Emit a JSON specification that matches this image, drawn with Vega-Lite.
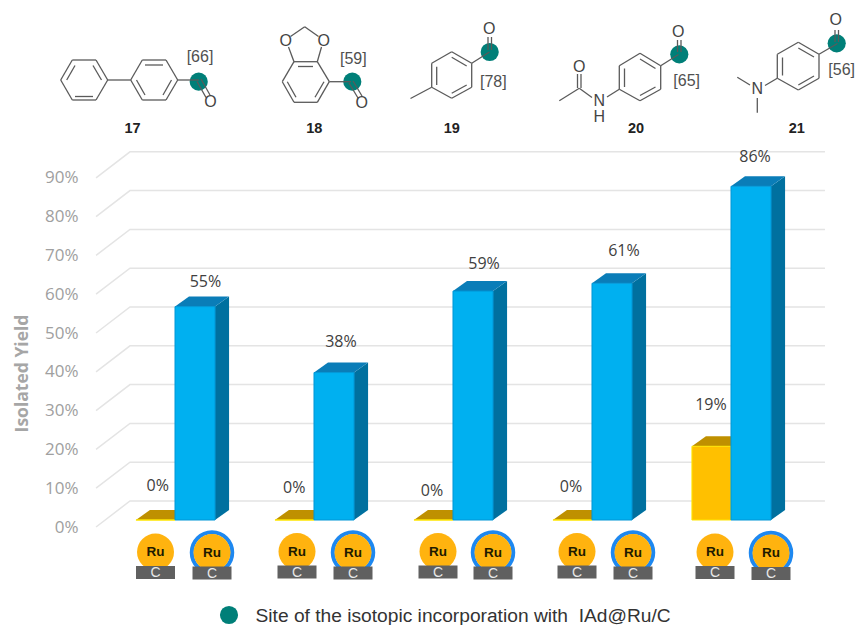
{
"$schema":"https://vega.github.io/schema/vega-lite/v6.json",
"width":855,"height":625,"padding":0,"autosize":{"type":"none"},"background":"white",
"config":{"view":{"stroke":null}},
"datasets":{
"bars":[
{"compound":"17","catalyst":"Ru/C","yield":0,"left":0.719,"right":1,"labelX":0.876,"labelY":0.0884},
{"compound":"17","catalyst":"IAd@Ru/C","yield":0.55,"left":1,"right":1.288,"labelX":1.219,"labelY":0.614},
{"compound":"18","catalyst":"Ru/C","yield":0,"left":1.719,"right":2,"labelX":1.858,"labelY":0.0832},
{"compound":"18","catalyst":"IAd@Ru/C","yield":0.38,"left":2,"right":2.288,"labelX":2.194,"labelY":0.4588},
{"compound":"19","catalyst":"Ru/C","yield":0,"left":2.719,"right":3,"labelX":2.849,"labelY":0.0747},
{"compound":"19","catalyst":"IAd@Ru/C","yield":0.59,"left":3,"right":3.288,"labelX":3.223,"labelY":0.66},
{"compound":"20","catalyst":"Ru/C","yield":0,"left":3.719,"right":4,"labelX":3.849,"labelY":0.085},
{"compound":"20","catalyst":"IAd@Ru/C","yield":0.61,"left":4,"right":4.288,"labelX":4.23,"labelY":0.693},
{"compound":"21","catalyst":"Ru/C","yield":0.19,"left":4.719,"right":5,"labelX":4.856,"labelY":0.2964},
{"compound":"21","catalyst":"IAd@Ru/C","yield":0.86,"left":5,"right":5.288,"labelX":5.173,"labelY":0.9356}
],
"sides":[
{"compound":"17","pos":1.288,"top":0.55,"base":0},{"compound":"17","pos":1.389,"top":0.576,"base":0.026},
{"compound":"18","pos":2.288,"top":0.38,"base":0},{"compound":"18","pos":2.389,"top":0.406,"base":0.026},
{"compound":"19","pos":3.288,"top":0.59,"base":0},{"compound":"19","pos":3.389,"top":0.616,"base":0.026},
{"compound":"20","pos":4.288,"top":0.61,"base":0},{"compound":"20","pos":4.389,"top":0.636,"base":0.026},
{"compound":"21","pos":5.288,"top":0.86,"base":0},{"compound":"21","pos":5.389,"top":0.886,"base":0.026}
],
"grid":[
{"t":0,"pos":0.432,"v":-0.018},{"t":0,"pos":0.676,"v":0.049},{"t":0,"pos":5.676,"v":0.049},
{"t":10,"pos":0.432,"v":0.082},{"t":10,"pos":0.676,"v":0.149},{"t":10,"pos":5.676,"v":0.149},
{"t":20,"pos":0.432,"v":0.182},{"t":20,"pos":0.676,"v":0.249},{"t":20,"pos":5.676,"v":0.249},
{"t":30,"pos":0.432,"v":0.282},{"t":30,"pos":0.676,"v":0.349},{"t":30,"pos":5.676,"v":0.349},
{"t":40,"pos":0.432,"v":0.382},{"t":40,"pos":0.676,"v":0.449},{"t":40,"pos":5.676,"v":0.449},
{"t":50,"pos":0.432,"v":0.482},{"t":50,"pos":0.676,"v":0.549},{"t":50,"pos":5.676,"v":0.549},
{"t":60,"pos":0.432,"v":0.582},{"t":60,"pos":0.676,"v":0.649},{"t":60,"pos":5.676,"v":0.649},
{"t":70,"pos":0.432,"v":0.682},{"t":70,"pos":0.676,"v":0.749},{"t":70,"pos":5.676,"v":0.749},
{"t":80,"pos":0.432,"v":0.782},{"t":80,"pos":0.676,"v":0.849},{"t":80,"pos":5.676,"v":0.849},
{"t":90,"pos":0.432,"v":0.882},{"t":90,"pos":0.676,"v":0.949},{"t":90,"pos":5.676,"v":0.949}
],
"bonds":[
{"x1":60.7,"y1":80,"x2":72.3,"y2":60},{"x1":72.3,"y1":60,"x2":96,"y2":60},{"x1":96,"y1":60,"x2":107.7,"y2":80},{"x1":107.7,"y1":80,"x2":96,"y2":100},{"x1":96,"y1":100,"x2":72.3,"y2":100},{"x1":72.3,"y1":100,"x2":60.7,"y2":80},
{"x1":66.7,"y1":80,"x2":75,"y2":65.5},{"x1":93,"y1":65.5,"x2":101.5,"y2":80},{"x1":75,"y1":96.5,"x2":93,"y2":96.5},
{"x1":107.7,"y1":80,"x2":130.7,"y2":80},
{"x1":130.7,"y1":80,"x2":142.3,"y2":60},{"x1":142.3,"y1":60,"x2":166,"y2":60},{"x1":166,"y1":60,"x2":177.7,"y2":80},{"x1":177.7,"y1":80,"x2":166,"y2":100},{"x1":166,"y1":100,"x2":142.3,"y2":100},{"x1":142.3,"y1":100,"x2":130.7,"y2":80},
{"x1":145,"y1":65,"x2":163,"y2":65},{"x1":136.5,"y1":80,"x2":145,"y2":95},{"x1":163,"y1":95,"x2":171.5,"y2":80},
{"x1":177.7,"y1":80,"x2":199,"y2":80},{"x1":197,"y1":81.5,"x2":206,"y2":97.5},{"x1":201,"y1":79,"x2":210,"y2":95},
{"x1":294,"y1":61.7,"x2":317.3,"y2":61.7},{"x1":317.3,"y1":61.7,"x2":329.3,"y2":81.7},{"x1":329.3,"y1":81.7,"x2":317.3,"y2":102.3},{"x1":317.3,"y1":102.3,"x2":294,"y2":102.3},{"x1":294,"y1":102.3,"x2":282.3,"y2":81.7},{"x1":282.3,"y1":81.7,"x2":294,"y2":61.7},
{"x1":298,"y1":66.5,"x2":313,"y2":66.5},{"x1":287.3,"y1":81.7,"x2":296,"y2":97.3},{"x1":315,"y1":97.3,"x2":324,"y2":81.7},
{"x1":294,"y1":61.7,"x2":288.5,"y2":47},{"x1":317.3,"y1":61.7,"x2":321.5,"y2":47},{"x1":290.5,"y1":36.5,"x2":304.7,"y2":26.7},{"x1":304.7,"y1":26.7,"x2":318.5,"y2":36.5},
{"x1":329.3,"y1":81.7,"x2":351,"y2":81.7},{"x1":349,"y1":83,"x2":358,"y2":98},{"x1":353,"y1":81,"x2":362,"y2":96},
{"x1":451.7,"y1":51.7,"x2":471.7,"y2":63.3},{"x1":471.7,"y1":63.3,"x2":471.7,"y2":87.3},{"x1":471.7,"y1":87.3,"x2":451.7,"y2":98.3},{"x1":451.7,"y1":98.3,"x2":431.7,"y2":87.3},{"x1":431.7,"y1":87.3,"x2":431.7,"y2":63.3},{"x1":431.7,"y1":63.3,"x2":451.7,"y2":51.7},
{"x1":451.7,"y1":57.3,"x2":466.7,"y2":66},{"x1":466.7,"y1":85,"x2":451.7,"y2":93.3},{"x1":436.7,"y1":66.7,"x2":436.7,"y2":85},
{"x1":431.7,"y1":87.3,"x2":410.5,"y2":98.5},{"x1":471.7,"y1":63.3,"x2":489.5,"y2":52},{"x1":488,"y1":50,"x2":488,"y2":37},{"x1":491.5,"y1":50,"x2":491.5,"y2":37},
{"x1":640,"y1":53.3,"x2":660.7,"y2":65.7},{"x1":660.7,"y1":65.7,"x2":660.7,"y2":89.3},{"x1":660.7,"y1":89.3,"x2":640,"y2":100.7},{"x1":640,"y1":100.7,"x2":619.3,"y2":89.3},{"x1":619.3,"y1":89.3,"x2":619.3,"y2":65.7},{"x1":619.3,"y1":65.7,"x2":640,"y2":53.3},
{"x1":640,"y1":59,"x2":655.5,"y2":68.5},{"x1":655.5,"y1":87,"x2":640,"y2":95.5},{"x1":624.5,"y1":68.5,"x2":624.5,"y2":87},
{"x1":660.7,"y1":65.7,"x2":678.5,"y2":54.5},{"x1":677.5,"y1":52,"x2":677.5,"y2":40},{"x1":681,"y1":52,"x2":681,"y2":40},
{"x1":619.3,"y1":89.3,"x2":607,"y2":97},{"x1":592,"y1":97.5,"x2":579.3,"y2":88.3},{"x1":559.3,"y1":100.7,"x2":579.3,"y2":88.3},{"x1":577.5,"y1":88,"x2":577.5,"y2":74},{"x1":581,"y1":88,"x2":581,"y2":74},
{"x1":798.3,"y1":42.3,"x2":819,"y2":54.3},{"x1":819,"y1":54.3,"x2":819,"y2":78.3},{"x1":819,"y1":78.3,"x2":798.3,"y2":90},{"x1":798.3,"y1":90,"x2":777.3,"y2":78.3},{"x1":777.3,"y1":78.3,"x2":777.3,"y2":54.3},{"x1":777.3,"y1":54.3,"x2":798.3,"y2":42.3},
{"x1":798.3,"y1":48,"x2":814,"y2":57},{"x1":814,"y1":76,"x2":798.3,"y2":85},{"x1":782.5,"y1":57.5,"x2":782.5,"y2":75.5},
{"x1":819,"y1":54.3,"x2":837.5,"y2":43.5},{"x1":835,"y1":42,"x2":835,"y2":30},{"x1":838.5,"y1":42,"x2":838.5,"y2":30},
{"x1":777.3,"y1":78.3,"x2":765,"y2":85.5},{"x1":737.3,"y1":77.3,"x2":750,"y2":85},{"x1":757.3,"y1":112.7,"x2":757.3,"y2":98}
],
"sites":[{"x":198.7,"y":81.7},{"x":352.3,"y":81.7},{"x":489.7,"y":52},{"x":679.3,"y":54.3},{"x":836.7,"y":43.3},{"x":229,"y":615}],
"atoms":[
{"text":"O","x":210.5,"y":102},{"text":"O","x":285.7,"y":40.7},{"text":"O","x":323.7,"y":40.7},{"text":"O","x":361.7,"y":103},{"text":"O","x":489.3,"y":29},{"text":"O","x":678.3,"y":32.3},{"text":"O","x":579.3,"y":66.7},{"text":"N","x":599.3,"y":101},{"text":"H","x":599.3,"y":116.5},{"text":"O","x":835.7,"y":20},{"text":"N","x":757.3,"y":89.3}
],
"refs":[{"text":"[66]","x":200,"y":57},{"text":"[59]","x":353.3,"y":59},{"text":"[78]","x":493.3,"y":81.7},{"text":"[65]","x":686.7,"y":81},{"text":"[56]","x":841.7,"y":70}],
"numbers":[{"text":"17","x":132.5,"y":129},{"text":"18","x":314.3,"y":129},{"text":"19","x":451.7,"y":129},{"text":"20","x":636,"y":129},{"text":"21","x":796.7,"y":129}],
"icons":[
{"compound":"17","catalyst":"Ru/C","x":155.5,"y":552},{"compound":"17","catalyst":"IAd@Ru/C","x":212,"y":552.5},
{"compound":"18","catalyst":"Ru/C","x":297,"y":551.5},{"compound":"18","catalyst":"IAd@Ru/C","x":353,"y":552.5},
{"compound":"19","catalyst":"Ru/C","x":438,"y":551.5},{"compound":"19","catalyst":"IAd@Ru/C","x":493,"y":552.5},
{"compound":"20","catalyst":"Ru/C","x":577,"y":551.5},{"compound":"20","catalyst":"IAd@Ru/C","x":633,"y":552.5},
{"compound":"21","catalyst":"Ru/C","x":715,"y":552},{"compound":"21","catalyst":"IAd@Ru/C","x":771,"y":553}
],
"note":[{"text":"Site of the isotopic incorporation with \u00a0IAd@Ru/C","x":255.5,"y":615.5}]
},
"layer":[
{"layer":[
{"data":{"name":"grid"},"mark":{"type":"line","color":"#E4E4E4","strokeWidth":1.5},
"encoding":{"x":{"field":"pos","type":"quantitative","scale":{"domain":[-0.259,5.8921],"nice":false,"zero":false},"axis":null},
"y":{"field":"v","type":"quantitative","scale":{"domain":[-0.2706,1.3402],"nice":false,"zero":false},
"title":"Isolated Yield","axis":{"values":[0,0.1,0.2,0.3,0.4,0.5,0.6,0.7,0.8,0.9],"format":".0%","offset":-83,"labelOffset":7,"labelPadding":5,"ticks":false,"domain":false,"grid":false,"labelFont":"Open Sans","labelFontSize":17,"labelColor":"#A0A0A0","labelOverlap":false,"labelFlush":false,"titleFont":"Open Sans","titleFontWeight":"bold","titleFontSize":17.5,"titleColor":"#A6A6A6","titleX":-61,"titleY":373,"titleAngle":270,"titleAlign":"center","titleBaseline":"middle"}},
"detail":{"field":"t"}}},
{"data":{"name":"sides"},"mark":{"type":"area","color":"#00709F"},
"encoding":{"x":{"field":"pos","type":"quantitative"},"y":{"field":"top","type":"quantitative"},"y2":{"field":"base"},"detail":{"field":"compound"}}},
{"data":{"name":"bars"},"mark":{"type":"point","shape":"M0,0L14,-10L54,-10L40,0Z","size":4,"filled":true,"opacity":1,"strokeWidth":0},
"encoding":{"x":{"field":"left","type":"quantitative"},"y":{"field":"yield","type":"quantitative"},
"fill":{"field":"catalyst","type":"nominal","legend":null,"scale":{"domain":["Ru/C","IAd@Ru/C"],"range":["#BF9000","#0A7DB8"]}}}},
{"data":{"name":"bars"},"mark":{"type":"bar","strokeWidth":1},
"encoding":{"x":{"field":"left","type":"quantitative"},"x2":{"field":"right"},"y":{"field":"yield","type":"quantitative"},"y2":{"datum":0},
"fill":{"field":"catalyst","type":"nominal","legend":null,"scale":{"domain":["Ru/C","IAd@Ru/C"],"range":["#FFC000","#00B0F0"]}},
"stroke":{"field":"catalyst","type":"nominal","legend":null,"scale":{"domain":["Ru/C","IAd@Ru/C"],"range":["#FFE600","#0096D6"]}}}},
{"data":{"name":"bars"},"mark":{"type":"text","font":"Open Sans","fontSize":16,"color":"#404040","baseline":"middle","align":"center"},
"encoding":{"x":{"field":"labelX","type":"quantitative"},"y":{"field":"labelY","type":"quantitative"},"text":{"field":"yield","type":"quantitative","format":".0%"}}}
],"resolve":{"scale":{"fill":"independent"}}},
{"layer":[
{"data":{"name":"sites"},"mark":{"type":"point","shape":"circle","filled":true,"opacity":1,"size":330,"color":"#007F78","strokeWidth":0},
"encoding":{"x":{"field":"x","type":"quantitative","scale":{"domain":[0,855],"nice":false,"zero":false},"axis":null},"y":{"field":"y","type":"quantitative","scale":{"domain":[625,0],"nice":false,"zero":false},"axis":null}}},
{"data":{"name":"bonds"},"mark":{"type":"rule","color":"#5A5A5A","strokeWidth":1.3},
"encoding":{"x":{"field":"x1","type":"quantitative"},"y":{"field":"y1","type":"quantitative"},"x2":{"field":"x2"},"y2":{"field":"y2"}}},
{"data":{"name":"atoms"},"mark":{"type":"text","font":"Liberation Sans","fontSize":16,"color":"#444444","baseline":"middle","align":"center"},
"encoding":{"x":{"field":"x","type":"quantitative"},"y":{"field":"y","type":"quantitative"},"text":{"field":"text"}}},
{"data":{"name":"refs"},"mark":{"type":"text","font":"Liberation Sans","fontSize":16,"color":"#505050","baseline":"middle","align":"center"},
"encoding":{"x":{"field":"x","type":"quantitative"},"y":{"field":"y","type":"quantitative"},"text":{"field":"text"}}},
{"data":{"name":"numbers"},"mark":{"type":"text","font":"Liberation Sans","fontSize":14.5,"fontWeight":"bold","color":"#222222","baseline":"middle","align":"center"},
"encoding":{"x":{"field":"x","type":"quantitative"},"y":{"field":"y","type":"quantitative"},"text":{"field":"text"}}},
{"data":{"name":"icons"},"transform":[{"filter":"datum.catalyst === 'IAd@Ru/C'"}],"mark":{"type":"point","shape":"circle","filled":false,"opacity":1,"size":1640,"color":"#1E88F0","strokeWidth":4},
"encoding":{"x":{"field":"x","type":"quantitative"},"y":{"field":"y","type":"quantitative"}}},
{"data":{"name":"icons"},"mark":{"type":"point","shape":"circle","filled":true,"opacity":1,"size":1369,"color":"#FFB30F","strokeWidth":0},
"encoding":{"x":{"field":"x","type":"quantitative"},"y":{"field":"y","type":"quantitative"}}},
{"data":{"name":"icons"},"mark":{"type":"point","shape":"M-19.5,-6.5H19.5V6.5H-19.5Z","size":4,"filled":true,"opacity":1,"color":"#606060","strokeWidth":0,"yOffset":20.5},
"encoding":{"x":{"field":"x","type":"quantitative"},"y":{"field":"y","type":"quantitative"}}},
{"data":{"name":"icons"},"mark":{"type":"text","text":"Ru","font":"Liberation Sans","fontSize":13.5,"fontWeight":"bold","color":"#201A00","baseline":"middle","align":"center"},
"encoding":{"x":{"field":"x","type":"quantitative"},"y":{"field":"y","type":"quantitative"}}},
{"data":{"name":"icons"},"mark":{"type":"text","text":"C","font":"Liberation Sans","fontSize":14,"color":"#E8E8E8","baseline":"middle","align":"center","yOffset":21},
"encoding":{"x":{"field":"x","type":"quantitative"},"y":{"field":"y","type":"quantitative"}}},
{"data":{"name":"note"},"mark":{"type":"text","font":"Liberation Sans","fontSize":19.2,"color":"#333333","baseline":"middle","align":"left"},
"encoding":{"x":{"field":"x","type":"quantitative"},"y":{"field":"y","type":"quantitative"},"text":{"field":"text"}}}
]}
],
"resolve":{"scale":{"x":"independent","y":"independent"}}
}
